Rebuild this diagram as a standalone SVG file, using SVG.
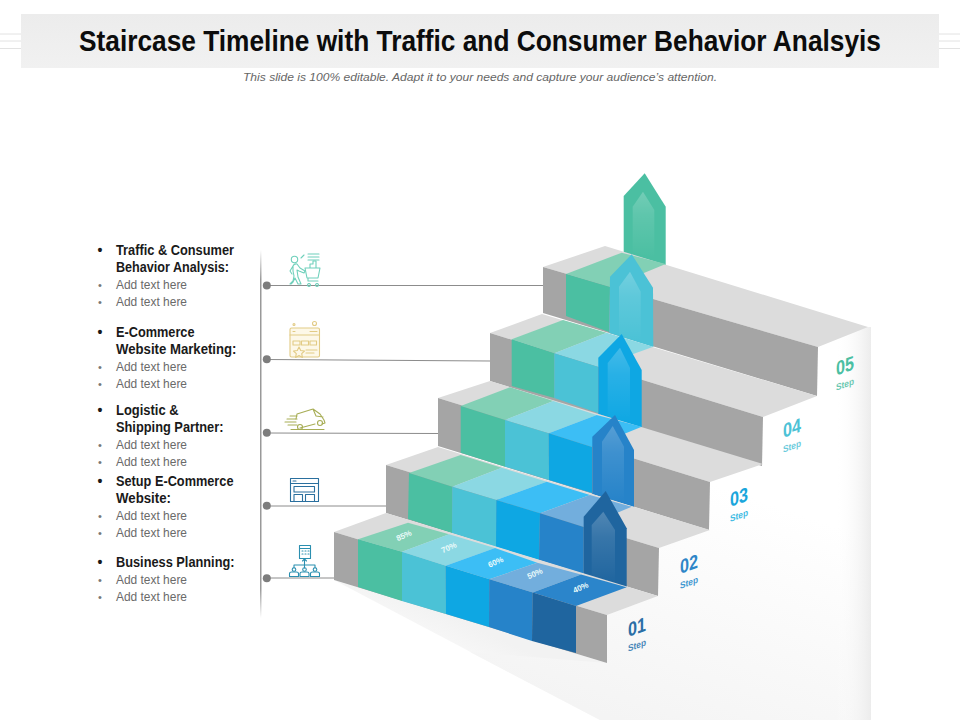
<svg xmlns="http://www.w3.org/2000/svg" width="960" height="720" viewBox="0 0 960 720">
<style>
text{font-family:"Liberation Sans",Arial,sans-serif}
.h{font-weight:700;font-size:14px;fill:#1a1a1a}
.a{font-size:12.5px;fill:#6a6a6a}
.bb{font-size:14px;font-weight:700;fill:#1a1a1a}
.ba{font-size:11px;fill:#777}
.tg{fill:#dcdcdc}.rg{fill:#a5a5a5}
.p{font-size:8px;font-weight:700;fill:#eafafa;text-anchor:middle}
.n{font-size:20px;font-weight:700}
.s{font-size:9.5px;font-weight:700}
.conn{stroke:#8c8c8c;stroke-width:1;fill:none}
.ic{fill:none;stroke-width:1.100;stroke-linejoin:round;stroke-linecap:round}
.deco{stroke:#e2e2e2;stroke-width:1}
.t1{fill:#82d0b5}.t2{fill:#8bd8e3}.t3{fill:#3cbef5}.t4{fill:#72aedd}.t5{fill:#2b85cb}
.r1{fill:#4bbfa2}.r2{fill:#4bc2d6}.r3{fill:#0ea7e3}.r4{fill:#2683c9}.r5{fill:#1f659f}
.inner{fill:url(#ing)}
</style>
<defs>
<linearGradient id="ing" x1="0" y1="0" x2="0" y2="1"><stop offset="0" stop-color="#fff" stop-opacity=".22"/><stop offset=".35" stop-color="#fff" stop-opacity=".11"/><stop offset="1" stop-color="#fff" stop-opacity="0"/></linearGradient>
<linearGradient id="bar" x1="0" y1="0" x2="0" y2="1"><stop offset="0" stop-color="#ececec"/><stop offset="1" stop-color="#f1f1f1"/></linearGradient>
<linearGradient id="vl" x1="0" y1="0" x2="0" y2="1"><stop offset="0" stop-color="#999" stop-opacity="0"/><stop offset=".08" stop-color="#999"/><stop offset=".92" stop-color="#999"/><stop offset="1" stop-color="#999" stop-opacity="0"/></linearGradient>
<linearGradient id="face" gradientUnits="userSpaceOnUse" x1="700" y1="480" x2="620" y2="720"><stop offset="0" stop-color="#fff"/><stop offset="1" stop-color="#f4f4f4"/></linearGradient>
<linearGradient id="edge" x1="0" y1="0" x2="1" y2="0"><stop offset="0" stop-color="#fff" stop-opacity="0"/><stop offset="1" stop-color="#ececec"/></linearGradient>
<linearGradient id="sh" gradientUnits="userSpaceOnUse" x1="470" y1="625" x2="440" y2="690"><stop offset="0" stop-color="#f2f2f2"/><stop offset="1" stop-color="#fff"/></linearGradient>
</defs>
<rect width="960" height="720" fill="#fff"/>

<g id="header">
<path class="deco" d="M0 34H21M0 41H21M0 48.500H21M939 34H960M939 41H960M939 48.500H960"/>
<rect x="21" y="14" width="918" height="54" fill="url(#bar)"/>
<text x="480" y="51" text-anchor="middle" font-size="29.500" font-weight="700" fill="#0c0c0c" textLength="802" lengthAdjust="spacingAndGlyphs">Staircase Timeline with Traffic and Consumer Behavior Analsyis</text>
<text x="480" y="80.500" text-anchor="middle" font-size="11.800" font-style="italic" fill="#666" textLength="474" lengthAdjust="spacingAndGlyphs">This slide is 100% editable. Adapt it to your needs and capture your audience’s attention.</text>
</g>

<g id="stair-shadow">
<polygon points="334,580 607,663 600,720 600,720" fill="url(#sh)"/>
<polygon points="607,663 607,615 658,596 659,548 710,530 710,482 763,464 763,417 817,396 818,347 868,327 871,327 871,720 600,720 470,652" fill="url(#face)"/>
<rect x="835" y="327" width="36" height="393" fill="url(#edge)"/>
</g>

<g id="connectors">
<path class="conn" d="M267 285.500H543M267 359.500L490 361M267 433L438 433.500M267 506H386M267 578H334"/>
<rect x="260" y="250" width="1.500" height="368" fill="url(#vl)"/>
<circle cx="266.800" cy="285.500" r="4" fill="#7d7d7d"/>
<circle cx="266.800" cy="359.300" r="4" fill="#7d7d7d"/>
<circle cx="266.800" cy="432.800" r="4" fill="#7d7d7d"/>
<circle cx="266.800" cy="505.800" r="4" fill="#7d7d7d"/>
<circle cx="266.800" cy="578.300" r="4" fill="#7d7d7d"/>
</g>

<g id="step-5">
<polygon class="r1" points="623.700,196 644.700,173.300 665.700,206.700 665.700,266 623.700,254"/>
<polygon class="inner" points="632.700,206.700 643,191.700 654.300,210 654.300,258 632.700,252"/>
<polygon class="tg" points="543,267 605,246 868,327 818,347"/>
<polygon class="rg" points="543,267 818,347 817,396 543,313"/>
<polygon class="t1" points="566,274 621.700,252.700 665.700,264 610,287"/>
<polygon class="r1" points="566,274 610,287 609,332 566,316"/>
<text class="n" fill="#4bbfa2" transform="matrix(1 -.36 0 1 836 375.700)" textLength="18" lengthAdjust="spacingAndGlyphs">05</text>
<text class="s" fill="#6cc9b2" transform="matrix(1 -.36 0 1 836 390.700)" textLength="18" lengthAdjust="spacingAndGlyphs">Step</text>
</g>

<g id="step-4">
<polygon class="r2" points="610,276.700 631.700,254.300 653,287.700 653.300,347 609.300,333"/>
<polygon class="inner" points="619,286.700 630,271.700 640.700,291.700 640.700,342 619,335"/>
<polygon class="tg" points="490,333 542,314 817,396 763,417"/>
<polygon class="rg" points="490,333 763,417 762,466 490,381"/>
<polygon class="t1" points="511.700,339.300 563,320 606.700,332.700 554.300,353.300"/>
<polygon class="t2" points="554.300,353.300 606.700,332.700 653.300,346.700 598,366.700"/>
<polygon class="r1" points="511.700,339.300 554.300,353.300 554.300,398 511.700,386"/>
<polygon class="r2" points="554.300,353.300 598,366.700 598,413 554.300,398"/>
<text class="n" fill="#4bc2d6" transform="matrix(1 -.36 0 1 783 438)" textLength="18" lengthAdjust="spacingAndGlyphs">04</text>
<text class="s" fill="#6ccbdc" transform="matrix(1 -.36 0 1 783 452.700)" textLength="18" lengthAdjust="spacingAndGlyphs">Step</text>
</g>

<g id="step-3">
<polygon class="r3" points="598.300,357.700 621.700,334 641.700,370 641.700,428 598.300,414"/>
<polygon class="inner" points="607.700,363 620,347.700 630,368 630,424 607.700,417"/>
<polygon class="tg" points="438,398 490,381 763,464 710,482"/>
<polygon class="rg" points="438,398 710,482 709,530 438,446"/>
<polygon class="t1" points="460.700,406 510,387.300 553.300,401 505,420"/>
<polygon class="t2" points="505,420 553.300,401 596.700,415 548.700,433.300"/>
<polygon class="t3" points="548.700,433.300 596.700,415 641.700,426.700 592,447"/>
<polygon class="r1" points="460.700,406 505,420 505,466.700 460.700,452.700"/>
<polygon class="r2" points="505,420 548.700,433.300 549,480 505,466.700"/>
<polygon class="r3" points="548.700,433.300 592,447 592,493 549,480"/>
<text class="n" fill="#1aa6dc" transform="matrix(1 -.36 0 1 730 507)" textLength="18" lengthAdjust="spacingAndGlyphs">03</text>
<text class="s" fill="#3fbbe3" transform="matrix(1 -.36 0 1 730 522)" textLength="18" lengthAdjust="spacingAndGlyphs">Step</text>
</g>

<g id="step-2">
<polygon class="r4" points="592.300,436.700 615,415 634,450 634,507 592.300,494"/>
<polygon class="inner" points="602,441.700 612.700,426 624,446.700 624,503 602,497"/>
<polygon class="tg" points="386,465 438,447 710,530 659,548"/>
<polygon class="rg" points="386,465 659,548 658,596 386,513"/>
<polygon class="t1" points="409,473 460.700,455 501.700,467.700 452.300,486.700"/>
<polygon class="t2" points="452.300,486.700 501.700,467.700 546.700,481.700 496.300,500"/>
<polygon class="t3" points="496.300,500 546.700,481.700 590,495 540,513.300"/>
<polygon class="t4" points="540,513.300 590,495 631.700,506.700 583.700,527"/>
<polygon class="r1" points="409,473 452.300,486.700 452,533 408,519"/>
<polygon class="r2" points="452.300,486.700 496.300,500 496,547 452,533"/>
<polygon class="r3" points="496.300,500 540,513.300 539,560 496,547"/>
<polygon class="r4" points="540,513.300 583.700,527 583.700,574 539,560"/>
<text class="n" fill="#2e86c8" transform="matrix(1 -.36 0 1 680 574)" textLength="18" lengthAdjust="spacingAndGlyphs">02</text>
<text class="s" fill="#3f97d0" transform="matrix(1 -.36 0 1 680 589)" textLength="18" lengthAdjust="spacingAndGlyphs">Step</text>
</g>

<g id="step-1">
<polygon class="r5" points="583.700,516.700 605.700,491 626.700,528.300 626.700,589 583.700,576"/>
<polygon class="inner" points="591.700,525 603.300,511.700 615,530 615,584 591.700,577"/>
<polygon class="tg" points="334,532 386,513 658,596 607,615"/>
<polygon class="rg" points="334,532 607,615 607,663 334,580"/>
<polygon class="t1" points="358,539.300 408,522.700 449,534.300 402,551.700"/>
<polygon class="t2" points="402,551.700 449,534.300 495,548 445.700,565.700"/>
<polygon class="t3" points="445.700,565.700 495,548 537.300,562.700 489.300,579.300"/>
<polygon class="t4" points="489.300,579.300 537.300,562.700 581,574.500 532.700,592.500"/>
<polygon class="t5" points="532.700,592.500 581,574.500 626.700,587.300 576,606"/>
<polygon class="r1" points="358,539.300 402,551.700 402,601 358,587"/>
<polygon class="r2" points="402,551.700 445.700,565.700 446,614 402,601"/>
<polygon class="r3" points="445.700,565.700 489.300,579.300 489,627 446,614"/>
<polygon class="r4" points="489.300,579.300 532.700,592.500 532,641 489,627"/>
<polygon class="r5" points="532.700,592.500 576,606 576,653 532,641"/>
<text class="p" transform="translate(405 538) rotate(-24)">85%</text>
<text class="p" transform="translate(450 550) rotate(-24)">70%</text>
<text class="p" transform="translate(496.700 564.500) rotate(-24)">60%</text>
<text class="p" transform="translate(536 576) rotate(-24)">50%</text>
<text class="p" transform="translate(581.700 590) rotate(-24)">40%</text>
<text class="n" fill="#2a6ea6" transform="matrix(1 -.36 0 1 628 637)" textLength="18" lengthAdjust="spacingAndGlyphs">01</text>
<text class="s" fill="#4a87b8" transform="matrix(1 -.36 0 1 628 651.700)" textLength="18" lengthAdjust="spacingAndGlyphs">Step</text>
</g>

<g id="icon-shopper" class="ic" stroke="#6fd0bb">
<circle cx="294.500" cy="259.500" r="3.200"/>
<path d="M290 284l3-3 1-5-1-5 0-5q1-2.500 4-2l3 4 5 3-1 2-5-2-2-1 1 7 3 7h-3l-3-6-2 4-2 2zM293 266l-3 5 2 3"/>
<path d="M305 268h15l-2 10h-11zM308 278v3h10M309 283.500a1.500 1.500 0 1 0 .01 0M317 283.500a1.500 1.500 0 1 0 .01 0M310 268v-4h3v-3h3v7"/>
<path d="M308 254h11M308 257h11M308 260h11M301 258l3-3"/>
</g>

<g id="icon-marketing" class="ic" stroke="#e2cb85">
<rect x="290" y="328" width="29.500" height="29" rx="1.500" fill="#fdf8e8"/>
<path d="M290 335h29.500M293 341h7v4h-7zM301.500 341h7v4h-7zM310 341h6.500v4H310zM306 350h11M306 353h8M293 331.500h2M310 331.500h7"/>
<circle cx="314.500" cy="323.500" r="2"/>
<circle cx="294" cy="324.500" r="1"/>
<path d="M299 347l1.700 3.500 3.800.5-2.800 2.600.7 3.800-3.400-1.800-3.400 1.800.7-3.800-2.800-2.600 3.800-.5z" fill="#fdf8e8"/>
</g>

<g id="icon-truck" class="ic" stroke="#a7ad55">
<path d="M297 414l16-5 7 5 4 6 1 3-3 1M315 424l-15 4M296 419l1-5M313 409l3 7 7 1"/>
<circle cx="320" cy="423" r="2.500"/>
<circle cx="300" cy="427" r="2.500"/>
<path d="M290 416h7M287 419h10M285 422h11M288 425h9M291 429.500h33"/>
</g>

<g id="icon-website" class="ic" stroke="#2a6f9e" stroke-width="1.200">
<rect x="290.500" y="478.500" width="28" height="23"/>
<path d="M290.500 483.500h28M294 486.500h20.500v5.500H294zM294 501v-6.500h8.500v6.500M305.500 501v-6.500h9v6.500M293 481h3"/>
</g>

<g id="icon-planning" class="ic" stroke="#2b8fb0">
<rect x="299.500" y="545.500" width="11" height="13"/>
<path d="M299.500 548.500h11M302 551h1M305 551h1M308 551h1M302 554h1M305 554h1M308 554h1M304.500 558.500v6M302.500 561l2-2 2 2M294 568v-3h21v3M304.500 565v3"/>
<circle cx="294" cy="569.500" r="1.800"/><circle cx="304.500" cy="569.500" r="1.800"/><circle cx="315" cy="569.500" r="1.800"/>
<path d="M289.500 576.500v-3q0-1.500 2-1.500h5q2 0 2 1.500v3zM300 576.500v-3q0-1.500 2-1.500h5q2 0 2 1.500v3zM310.500 576.500v-3q0-1.500 2-1.500h5q2 0 2 1.500v3z"/>
</g>

<g id="list-traffic">
<text class="bb" x="97.500" y="255">•</text>
<text class="h" x="116" y="255" textLength="118" lengthAdjust="spacingAndGlyphs">Traffic &amp; Consumer</text>
<text class="h" x="116" y="272" textLength="113" lengthAdjust="spacingAndGlyphs">Behavior Analysis:</text>
<text class="ba" x="98" y="289">•</text><text class="a" x="116" y="289" textLength="71" lengthAdjust="spacingAndGlyphs">Add text here</text>
<text class="ba" x="98" y="306">•</text><text class="a" x="116" y="306" textLength="71" lengthAdjust="spacingAndGlyphs">Add text here</text>
</g>
<g id="list-ecommerce">
<text class="bb" x="97.500" y="337">•</text>
<text class="h" x="116" y="337" textLength="78.500" lengthAdjust="spacingAndGlyphs">E-Commerce</text>
<text class="h" x="116" y="354" textLength="120.500" lengthAdjust="spacingAndGlyphs">Website Marketing:</text>
<text class="ba" x="98" y="371">•</text><text class="a" x="116" y="371" textLength="71" lengthAdjust="spacingAndGlyphs">Add text here</text>
<text class="ba" x="98" y="388">•</text><text class="a" x="116" y="388" textLength="71" lengthAdjust="spacingAndGlyphs">Add text here</text>
</g>
<g id="list-logistic">
<text class="bb" x="97.500" y="415">•</text>
<text class="h" x="116" y="415" textLength="62.500" lengthAdjust="spacingAndGlyphs">Logistic &amp;</text>
<text class="h" x="116" y="432" textLength="107.500" lengthAdjust="spacingAndGlyphs">Shipping Partner:</text>
<text class="ba" x="98" y="449">•</text><text class="a" x="116" y="449" textLength="71" lengthAdjust="spacingAndGlyphs">Add text here</text>
<text class="ba" x="98" y="466">•</text><text class="a" x="116" y="466" textLength="71" lengthAdjust="spacingAndGlyphs">Add text here</text>
</g>
<g id="list-setup">
<text class="bb" x="97.500" y="486">•</text>
<text class="h" x="116" y="486" textLength="117.500" lengthAdjust="spacingAndGlyphs">Setup E-Commerce</text>
<text class="h" x="116" y="503" textLength="55" lengthAdjust="spacingAndGlyphs">Website:</text>
<text class="ba" x="98" y="520">•</text><text class="a" x="116" y="520" textLength="71" lengthAdjust="spacingAndGlyphs">Add text here</text>
<text class="ba" x="98" y="537">•</text><text class="a" x="116" y="537" textLength="71" lengthAdjust="spacingAndGlyphs">Add text here</text>
</g>
<g id="list-business">
<text class="bb" x="97.500" y="567">•</text>
<text class="h" x="116" y="567" textLength="118.500" lengthAdjust="spacingAndGlyphs">Business Planning:</text>
<text class="ba" x="98" y="583.500">•</text><text class="a" x="116" y="583.500" textLength="71" lengthAdjust="spacingAndGlyphs">Add text here</text>
<text class="ba" x="98" y="601">•</text><text class="a" x="116" y="601" textLength="71" lengthAdjust="spacingAndGlyphs">Add text here</text>
</g>
</svg>
